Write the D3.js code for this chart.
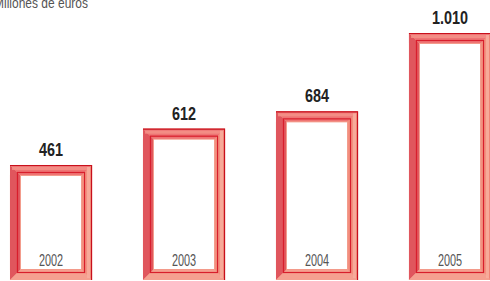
<!DOCTYPE html>
<html>
<head>
<meta charset="utf-8">
<script src="https://cdn.jsdelivr.net/npm/d3@7"></script>
<style>
  body { margin: 0; background: #fff; }
  svg { display: block; }
  .unit { font-family: "Liberation Sans", Arial, sans-serif; font-size: 15px; fill: #555; }
  .val { font-family: "Liberation Sans", Arial, sans-serif; font-size: 18px; font-weight: bold; fill: #222; }
  .year { font-family: "Liberation Sans", Arial, sans-serif; font-size: 16px; fill: #555; }
</style>
</head>
<body>
<div id="chart"></div>
<script>
var years = ["2002", "2003", "2004", "2005"];
var values = [461, 612, 684, 1010];
var valueLabels = ["461", "612", "684", "1.010"];
var unitLabel = "Millones de euros";

var svgWidth = 490;
var svgHeight = 281;
var bottom = 280;   // bars run past the zero line down to here
var t = 10;         // frame thickness

var svg = d3.select("#chart")
  .append("svg")
  .attr("width", svgWidth)
  .attr("height", svgHeight);

var x = d3.scaleBand()
  .domain(years)
  .range([0, 501])
  .paddingInner(0.383)
  .paddingOuter(0.075);

var y = d3.scaleLinear()
  .domain([0, 1010])
  .range([275.8, 33]);

// condensed look: squeeze text horizontally; the reference crops the start of this line
svg.append("text")
  .attr("class", "unit")
  .attr("transform", "translate(88,8) scale(0.8,1)")
  .attr("text-anchor", "end")
  .text(unitLabel);

var bars = svg.selectAll("g.bar")
  .data(years)
  .enter()
  .append("g")
  .attr("class", "bar");

function poly(pts) {
  return "M" + pts.map(function (p) { return p.join(","); }).join("L") + "Z";
}

bars.each(function (d, i) {
  var g = d3.select(this);
  var x0 = x(d), x1 = x(d) + x.bandwidth();
  var y0 = y(values[i]), y1 = bottom;

  g.append("rect")
    .attr("x", x0).attr("y", y0)
    .attr("width", x1 - x0).attr("height", y1 - y0)
    .attr("fill", "#f39a8a");

  // left face
  g.append("path")
    .attr("d", poly([[x0, y0], [x0 + t, y0 + t], [x0 + t, y1 - t], [x0, y1]]))
    .attr("fill", "#e0565d");
  // top face
  g.append("path")
    .attr("d", poly([[x0, y0], [x1, y0], [x1 - t, y0 + t], [x0 + t, y0 + t]]))
    .attr("fill", "#ee7474");
  // right face
  g.append("path")
    .attr("d", poly([[x1, y0], [x1, y1], [x1 - t, y1 - t], [x1 - t, y0 + t]]))
    .attr("fill", "#f3907f");
  // bottom face
  g.append("path")
    .attr("d", poly([[x0, y1], [x1, y1], [x1 - t, y1 - t], [x0 + t, y1 - t]]))
    .attr("fill", "#f5a090");

  // lighter bevel stripes
  g.append("rect")
    .attr("x", x0 + 2).attr("y", y0 + 2)
    .attr("width", x1 - x0 - 4).attr("height", 3)
    .attr("fill", "#f4948a").attr("opacity", 0.8);
  g.append("rect")
    .attr("x", x1 - 5).attr("y", y0 + 2)
    .attr("width", 3).attr("height", y1 - y0 - 4)
    .attr("fill", "#f7b0a0").attr("opacity", 0.8);

  // outer dark edge on top and right
  g.append("path")
    .attr("d", "M" + x0 + "," + (y0 + 0.5) + "H" + (x1 - 0.5) + "V" + y1)
    .attr("fill", "none")
    .attr("stroke", "#c8101c")
    .attr("stroke-width", 1.2);

  // inner red line around the window
  g.append("rect")
    .attr("x", x0 + t - 2.5).attr("y", y0 + t - 2.5)
    .attr("width", x1 - x0 - 2 * t + 5).attr("height", y1 - y0 - 2 * t + 5)
    .attr("fill", "none")
    .attr("stroke", "#d81e2c")
    .attr("stroke-width", 1.2);

  // window
  g.append("rect")
    .attr("x", x0 + t + 1).attr("y", y0 + t + 1)
    .attr("width", x1 - x0 - 2 * t - 2).attr("height", y1 - y0 - 2 * t - 2)
    .attr("fill", "#fff");
});

bars.append("text")
  .attr("class", "val")
  .attr("transform", function (d, i) {
    return "translate(" + (x(d) + x.bandwidth() / 2) + "," + (y(values[i]) - 9) + ") scale(0.8,1)";
  })
  .attr("text-anchor", "middle")
  .text(function (d, i) { return valueLabels[i]; });

bars.append("text")
  .attr("class", "year")
  .attr("transform", function (d) {
    return "translate(" + (x(d) + x.bandwidth() / 2) + ",266) scale(0.68,1)";
  })
  .attr("text-anchor", "middle")
  .text(function (d) { return d; });
</script>
</body>
</html>
